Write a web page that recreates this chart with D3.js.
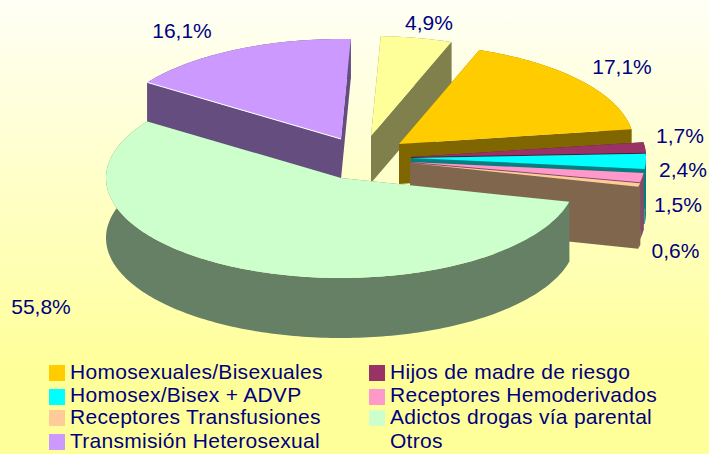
<!DOCTYPE html>
<html><head><meta charset="utf-8">
<script src="https://cdnjs.cloudflare.com/ajax/libs/d3/7.8.5/d3.min.js"></script>
<style>html,body{margin:0;padding:0;background:#ffff99}svg{display:block}text{font-family:"Liberation Sans",Arial,sans-serif;fill:#000080}</style>
</head><body><svg id="c" width="709" height="454"></svg>
<script>
const categories = ["Homosexuales/Bisexuales","Hijos de madre de riesgo","Homosex/Bisex + ADVP","Receptores Hemoderivados","Receptores Transfusiones","Adictos drogas vía parental","Transmisión Heterosexual","Otros"];
const values = [17.1,1.7,2.4,1.5,0.6,55.8,16.1,4.9];
const valueLabels = ["17,1%","1,7%","2,4%","1,5%","0,6%","55,8%","16,1%","4,9%"];
const colors = ["#FFCC00","#993366","#00FFFF","#FF99CC","#FFCC99","#CCFFCC","#CC99FF","#FFFF99"];

// layout
const W=709,H=454, RX=235, RY=100, START=20*Math.PI/180;
const tips=[[399,144],[411,157],[411,158],[410,162],[410,163],[341,178],[341,139],[371,136]];
const depths=[40,50,55,57,62,60,40,47];
const labelPos=[[622,66],[680,135.5],[683,169],[678,204],[675.5,250],[41,306],[182,30],[429,22]];
const legendCols=[49,369], legendTops=[365,389,410,434], legendBase=[379,402,424,448];
const paintOrder=[6,7,0,1,2,3,4,5];

const svg=d3.select("#c");
const defs=svg.append("defs");
const g=defs.append("linearGradient").attr("id","bg").attr("x1",0).attr("y1",0).attr("x2",0).attr("y2",1);
g.append("stop").attr("offset",0).attr("stop-color","#fffff6");
g.append("stop").attr("offset",0.82).attr("stop-color","#ffff99");
svg.append("rect").attr("width",W).attr("height",H).attr("fill","url(#bg)");

const pie=d3.pie().sort(null).value(d=>d).startAngle(START).endAngle(START+2*Math.PI);
const arcs=pie(values);
const pt=(i,a,dz=0)=>{const [cx,cy]=tips[i];return [cx+RX*Math.sin(a),cy-Math.cos(a)*RY+dz];};
const line=d3.line();
const dark=c=>d3.interpolateRgb(c,"#000")(0.5);

paintOrder.forEach(i=>{
  const A=arcs[i],d=depths[i],c=colors[i],w=dark(c),tip=tips[i];
  const n=Math.max(2,Math.ceil((A.endAngle-A.startAngle)/0.02));
  const angs=d3.range(n+1).map(k=>A.startAngle+(A.endAngle-A.startAngle)*k/n);
  const wall=a=>[tip,pt(i,a),pt(i,a,d),[tip[0],tip[1]+d]];
  const draw=p=>svg.append("path").attr("d",line(p)+"Z").attr("fill",w);
  draw(wall(A.startAngle)); draw(wall(A.endAngle));
  draw(angs.map(a=>pt(i,a)).concat(angs.slice().reverse().map(a=>pt(i,a,d))));
  svg.append("path").attr("d",line([tip,...angs.map(a=>pt(i,a))])+"Z").attr("fill",c);
  if(i===6) svg.append("path").attr("d",line([tip,pt(i,A.startAngle)])).attr("stroke","#fff").attr("fill","none");
});

valueLabels.forEach((t,i)=>svg.append("text").attr("x",labelPos[i][0]).attr("y",labelPos[i][1]+7.5).attr("text-anchor","middle").attr("font-size",21).text(t));

categories.forEach((t,i)=>{
  const col=i%2,row=Math.floor(i/2),x=legendCols[col];
  svg.append("rect").attr("x",x).attr("y",legendTops[row]).attr("width",16).attr("height",16).attr("fill",colors[i]);
  svg.append("text").attr("x",x+21).attr("y",legendBase[row]).attr("font-size",21).attr("letter-spacing",0.28).text(t);
});
</script></body></html>
